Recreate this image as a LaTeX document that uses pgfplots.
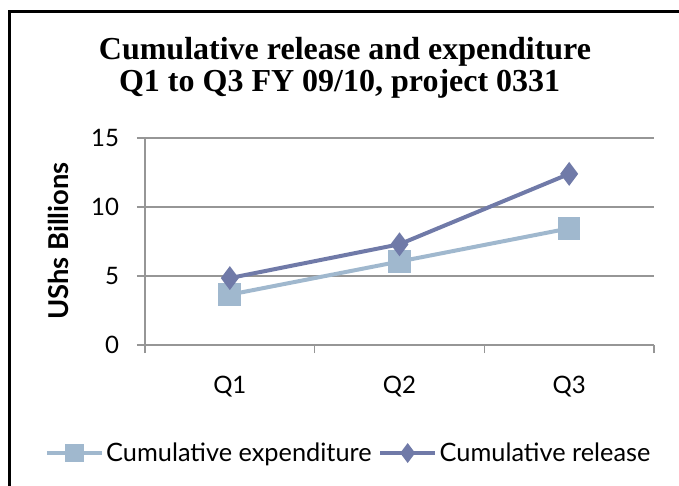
\documentclass[border=0pt]{standalone}
\usepackage{fontspec}
\setmainfont{Liberation Serif}
\newfontfamily\gill{Lato}
\usepackage{pgfplots}
\pgfplotsset{compat=1.18}
\definecolor{expc}{RGB}{160,184,206}
\definecolor{relc}{RGB}{112,122,168}
\definecolor{gridc}{RGB}{150,150,150}
\begin{document}
\begin{tikzpicture}
\useasboundingbox (-108.75pt,-105.75pt) rectangle (400.5pt,258.75pt);
\draw[line width=2.25pt] (-101.25pt,-110pt) -- (-101.25pt,250pt) -- (405pt,250pt);
\begin{axis}[
  at={(0pt,0pt)}, anchor=origin,
  scale only axis,
  width=381.75pt, height=155.25pt,
  xmin=0.5, xmax=3.5, ymin=0, ymax=15,
  xtick={1,2,3}, xticklabels={Q1,Q2,Q3},
  minor xtick={0.5,1.5,2.5,3.5},
  ytick={0,5,10,15},
  ymajorgrids, major grid style={gridc, line width=0.8pt},
  axis x line*=bottom, axis y line*=left,
  axis line style={gridc, line width=0.8pt},
  tick align=outside,
  tick style={gridc, line width=0.8pt},
  major tick length=6pt, minor tick length=6pt,
  major x tick style={draw=none},
  tick label style={font=\gill\fontsize{18}{20}\selectfont},
  /pgf/number format/assume math mode=true,
  xticklabel style={anchor=base, yshift=-30pt},
  yticklabel style={xshift=-10pt},
  legend columns=2,
  legend style={draw=none, fill=none, at={(0.4008,-0.522)}, anchor=center,
    font=\gill\fontsize{19}{21}\selectfont,
    /tikz/every odd column/.append style={column sep=0pt},
    /tikz/every even column/.append style={column sep=3pt},
    nodes={inner sep=2pt}},
  legend cell align=left,
  legend image code/.code={\draw[mark repeat=2,mark phase=2,#1] plot coordinates {(0pt,0pt) (20.5pt,0pt) (41pt,0pt)};},
]
\addplot[expc, line width=3pt, mark=square*, mark size=7pt, mark options={solid, expc},
  legend image post style={mark size=5.5pt}]
  coordinates {(1,3.65) (2,6.05) (3,8.45)};
\addlegendentry{Cumulative expenditure}
\addplot[relc, line width=3pt, mark=diamond*, mark size=6.5pt, mark options={solid, relc},
  legend image post style={mark size=5pt}]
  coordinates {(1,4.85) (2,7.3) (3,12.4)};
\addlegendentry{Cumulative release}
\end{axis}
\node[anchor=base, font=\bfseries\fontsize{24}{26}\selectfont] at (150pt,213.75pt) {Cumulative release and expenditure};
\node[anchor=base, font=\bfseries\fontsize{24}{26}\selectfont] at (146pt,189.75pt) {Q1 to Q3 FY 09/10, project 0331};
\node[rotate=90, font=\gill\bfseries\fontsize{20.5}{22}\selectfont] at (-65.25pt,78pt) {UShs Billions};
\end{tikzpicture}
\end{document}
